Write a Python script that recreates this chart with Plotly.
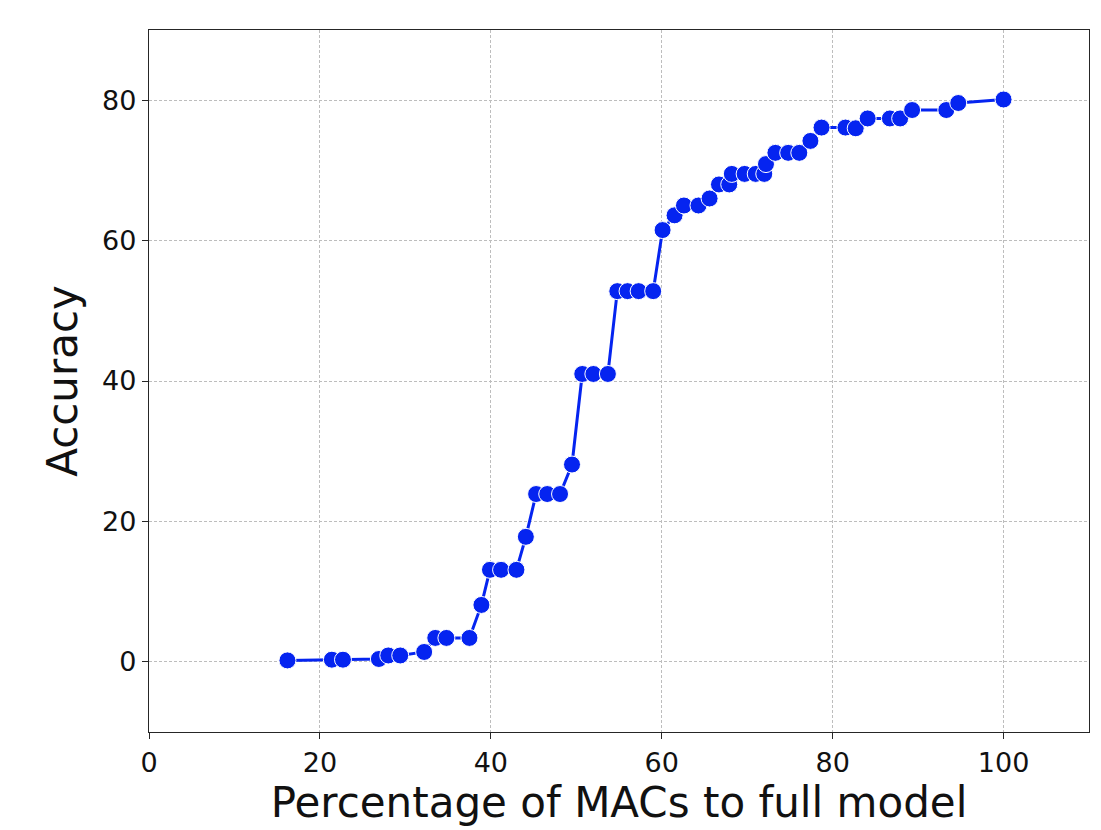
import plotly.graph_objects as go

macs_pct = [16.2, 21.4, 22.7, 26.9, 28.0, 29.4, 32.2, 33.5, 34.8, 37.5,
            38.9, 39.9, 41.2, 43.0, 44.1, 45.3, 46.6, 48.1, 49.5, 50.7,
            52.0, 53.7, 54.8, 56.0, 57.3, 59.0, 60.1, 61.5, 62.6, 64.3,
            65.6, 66.7, 67.9, 68.2, 69.7, 71.0, 72.0, 72.2, 73.3, 74.8,
            76.1, 77.4, 78.7, 81.5, 82.7, 84.1, 86.7, 87.9, 89.3, 93.3,
            94.7, 100.0]
accuracy = [0.2, 0.3, 0.3, 0.4, 0.9, 0.9, 1.4, 3.4, 3.4, 3.4,
            8.1, 13.1, 13.1, 13.1, 17.8, 23.9, 23.9, 23.9, 28.1, 41.0,
            41.0, 41.0, 52.8, 52.8, 52.8, 52.8, 61.5, 63.6, 65.0, 65.0,
            66.0, 68.0, 68.0, 69.5, 69.5, 69.5, 69.5, 70.9, 72.5, 72.5,
            72.5, 74.2, 76.1, 76.1, 76.0, 77.4, 77.4, 77.4, 78.6, 78.6,
            79.6, 80.1]

x_ticks = [0, 20, 40, 60, 80, 100]
y_ticks = [0, 20, 40, 60, 80]

fig = go.Figure()
fig.add_trace(go.Scatter(
    x=macs_pct, y=accuracy, mode="lines+markers",
    line=dict(color="#0524f0", width=3),
    marker=dict(color="#0524f0", size=17, line=dict(color="white", width=1)),
    showlegend=False,
))

axis_common = dict(
    showline=True, linecolor="#262626", linewidth=1.3, mirror=True,
    ticks="outside", ticklen=6, tickwidth=1.3, tickcolor="#262626",
    showgrid=True, gridcolor="#bdbdbd", griddash="3px,2px", gridwidth=1,
    zeroline=False,
    tickfont=dict(family="DejaVu Sans", size=27, color="#111"),
)

fig.update_xaxes(range=[0, 110], tickvals=x_ticks,
                 title=dict(text="Percentage of MACs to full model",
                            font=dict(family="DejaVu Sans", size=42, color="#111"),
                            standoff=6),
                 **axis_common)
fig.update_yaxes(range=[-10, 90], tickvals=y_ticks,
                 title=dict(text="Accuracy",
                            font=dict(family="DejaVu Sans", size=42, color="#111"),
                            standoff=11),
                 **axis_common)

fig.update_layout(
    width=1101, height=830,
    margin=dict(l=149, r=12, t=30, b=98),
    paper_bgcolor="white", plot_bgcolor="white",
    font=dict(family="DejaVu Sans"),
)

fig.write_html("out.html")
